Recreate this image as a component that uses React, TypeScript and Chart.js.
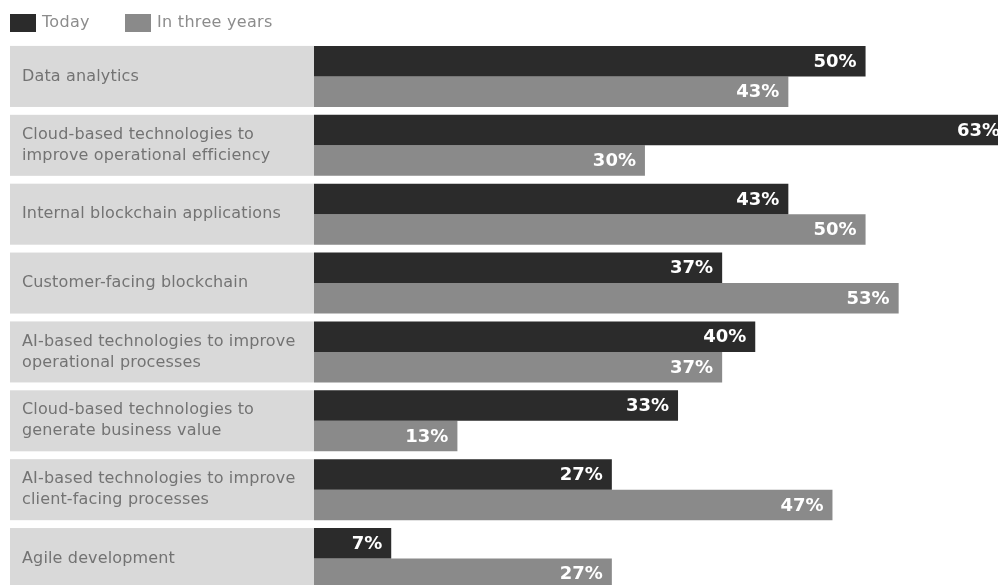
import React, { useEffect, useRef } from "react";
import { Chart, registerables } from "chart.js";

Chart.register(...registerables);

const categories: string[][] = [
  ["Data analytics"],
  ["Cloud-based technologies to", "improve operational efficiency"],
  ["Internal blockchain applications"],
  ["Customer-facing blockchain"],
  ["AI-based technologies to improve", "operational processes"],
  ["Cloud-based technologies to", "generate business value"],
  ["AI-based technologies to improve", "client-facing processes"],
  ["Agile development"],
];

const seriesNames = ["Today", "In three years"];
const todayValues = [50, 63, 43, 37, 40, 33, 27, 7];
const threeYearValues = [43, 30, 50, 53, 37, 13, 47, 27];

const DARK = "#2b2b2b";
const GREY = "#8a8a8a";
const BOX = "#d9d9d9";
const LABEL_FONT = "DejaVu Sans";

const customDraw = {
  id: "customDraw",
  beforeDatasetsDraw(chart: any) {
    const ctx = chart.ctx;
    const m0 = chart.getDatasetMeta(0);
    const m1 = chart.getDatasetMeta(1);
    ctx.save();
    categories.forEach((lines, i) => {
      const b0 = m0.data[i];
      const b1 = m1.data[i];
      const top = b0.y - b0.height / 2;
      const bottom = b1.y + b1.height / 2;
      ctx.fillStyle = BOX;
      ctx.fillRect(10, top, chart.chartArea.left - 10, bottom - top);
      ctx.fillStyle = "#737373";
      ctx.font = `16px "${LABEL_FONT}"`;
      (ctx as any).letterSpacing = "0.15px";
      ctx.textAlign = "left";
      ctx.textBaseline = "middle";
      const lh = 21;
      const cy = (top + bottom) / 2;
      lines.forEach((ln, k) => {
        const y = cy + (k - (lines.length - 1) / 2) * lh;
        ctx.fillText(ln, 22, y);
      });
    });
    // legend
    const items = [
      { x: 10, color: DARK, text: seriesNames[0] },
      { x: 125, color: GREY, text: seriesNames[1] },
    ];
    items.forEach((it) => {
      ctx.fillStyle = it.color;
      ctx.fillRect(it.x, 14, 26, 18);
      ctx.fillStyle = "#8c8c8c";
      ctx.font = `16px "${LABEL_FONT}"`;
      (ctx as any).letterSpacing = "0.3px";
      ctx.textAlign = "left";
      ctx.textBaseline = "middle";
      ctx.fillText(it.text, it.x + 32, 23);
    });
    ctx.restore();
  },
  afterDatasetsDraw(chart: any) {
    const ctx = chart.ctx;
    ctx.save();
    ctx.fillStyle = "#ffffff";
    ctx.font = `bold 18px "${LABEL_FONT}"`;
    ctx.textAlign = "right";
    ctx.textBaseline = "middle";
    chart.data.datasets.forEach((ds: any, di: number) => {
      const meta = chart.getDatasetMeta(di);
      meta.data.forEach((bar: any, i: number) => {
        ctx.fillText(ds.data[i] + "%", bar.x - 9, bar.y + 1);
      });
    });
    ctx.restore();
  },
};

export default function App() {
  const ref = useRef<HTMLCanvasElement | null>(null);
  useEffect(() => {
    if (!ref.current) return;
    const chart = new Chart(ref.current, {
      type: "bar",
      data: {
        labels: categories.map((c) => c.join(" ")),
        datasets: [
          {
            label: seriesNames[0],
            data: todayValues,
            backgroundColor: DARK,
            borderWidth: 0,
            barPercentage: 1.0,
            categoryPercentage: 0.886,
          },
          {
            label: seriesNames[1],
            data: threeYearValues,
            backgroundColor: GREY,
            borderWidth: 0,
            barPercentage: 1.0,
            categoryPercentage: 0.886,
          },
        ],
      },
      options: {
        indexAxis: "y",
        responsive: false,
        animation: false,
        devicePixelRatio: 1,
        layout: { padding: { left: 314, top: 42, bottom: 7, right: 0 } },
        scales: {
          x: { display: false, min: 0, max: 64 },
          y: { display: false },
        },
        plugins: {
          legend: { display: false },
          tooltip: { enabled: false },
        },
      },
      plugins: [customDraw],
    });
    return () => chart.destroy();
  }, []);
  return (
    <div
      style={{
        position: "fixed",
        left: 0,
        top: 0,
        width: 998,
        height: 585,
        overflow: "hidden",
        background: "#ffffff",
      }}
    >
      <canvas ref={ref} width={1020} height={600} style={{ display: "block" }} />
    </div>
  );
}
